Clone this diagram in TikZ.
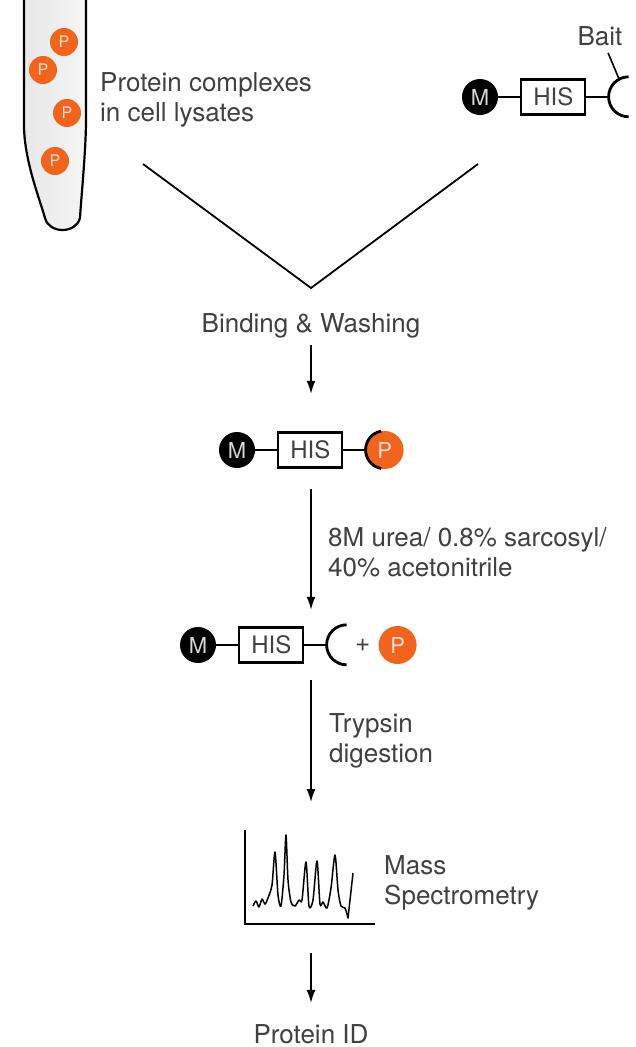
\documentclass[tikz,border=0pt]{standalone}
\usepackage{fontspec}
\setmainfont{TeX Gyre Heros}
\usetikzlibrary{positioning,chains,arrows.meta}

\definecolor{inkgray}{RGB}{64,64,64}
\definecolor{porange}{RGB}{240,100,30}

\begin{document}
\begin{tikzpicture}[
x=1pt, y=-1pt,
label text/.style={
	text=inkgray, inner sep=0pt,
	font=\fontsize{26}{30}\selectfont
},
bead/.style={
	circle, fill=black, text=white!85!black,
	minimum size=36pt, inner sep=0pt,
	font=\fontsize{22}{22}\selectfont
},
histag/.style={
	draw, line width=2.2pt, text=inkgray,
	minimum width=64pt, minimum height=35pt, inner sep=0pt,
	font=\fontsize{24}{24}\selectfont
},
prey/.style={
	circle, fill=porange, text=white!78!porange,
	minimum size=38pt, inner sep=0pt,
	font=\fontsize{22}{22}\selectfont
},
small prey/.style={prey, minimum size=28pt, font=\fontsize{16}{16}\selectfont},
cup/.style={circle, minimum size=40pt, inner sep=0pt},
link/.style={line width=2.2pt},
grip/.style={line width=2.8pt},
flow/.style={-{Latex[length=13pt,width=9pt]}, line width=1.6pt},
node distance=22pt
]
\useasboundingbox (0,0) rectangle (635,1047);

% tube with lysate
\draw[line width=2.2pt, left color=gray!18, middle color=white, right color=gray!8]
	(24,-2) -- (24,125) .. controls (24,160) and (40,200) .. (45,218)
	.. controls (49,234) and (76,234) .. (80,218)
	.. controls (81,200) and (86,150) .. (86,120) -- (86,-2);
\foreach \pos [count=\i] in {(64,42),(43,70),(67,113),(55,161)}
	\node[small prey] (lys\i) at \pos {P};
\node[label text, anchor=north west, align=left] (lysate) at (100,72) {Protein complexes\\in cell lysates};

% bait on the beads
\begin{scope}[start chain=bait going right]
\node[bead, on chain] (m1) at (480,97) {M};
\node[histag, on chain] (his1) {HIS};
\node[cup, on chain] (cup1) {};
\end{scope}
\draw[link] (m1) -- (his1) (his1) -- (cup1.west);
\draw[grip] (cup1.north) arc[start angle=90, end angle=270, radius=20pt];
\node[label text, anchor=base] (bait) at (600,45) {Bait};
\draw[line width=1.6pt, shorten <=8pt] ([xshift=5pt]bait.south) -- (cup1.118);

% mixing
\coordinate (fromlys) at (143,164);
\coordinate (frombait) at (478,164);
\coordinate (join) at (311,288);
\draw[line width=1.8pt] (fromlys) -- (join) -- (frombait);
\node[label text, anchor=base] (bind) at (311,332) {Binding \& Washing};

% bound complex
\begin{scope}[start chain=bound going right]
\node[bead, on chain] (m2) at (237,450) {M};
\node[histag, on chain] (his2) {HIS};
\node[prey, on chain] (p2) {P};
\end{scope}
\draw[link] (m2) -- (his2) (his2) -- (p2);
\draw[grip] (p2.100) arc[start angle=100, end angle=260, radius=19pt];

% elution
\begin{scope}[start chain=eluted going right]
\node[bead, on chain] (m3) at (198,645) {M};
\node[histag, on chain] (his3) {HIS};
\node[cup, on chain] (cup3) {};
\end{scope}
\draw[link] (m3) -- (his3) (his3) -- (cup3.west);
\draw[grip] (cup3.north) arc[start angle=90, end angle=270, radius=20pt];
\node[label text] (plus) at ([xshift=16pt]cup3.center) {+};
\node[prey, right=8pt of plus] (p3) {P};

\node[label text, anchor=north west, align=left] (urea) at (328,527) {8M urea/ 0.8\% sarcosyl/\\40\% acetonitrile};
\node[label text, anchor=north west, align=left] (trypsin) at (329,713) {Trypsin\\digestion};

% spectrum
\coordinate (spec) at (311,830);
\coordinate (origin) at (245,924);
\draw[line width=1.6pt] (origin |- spec) -- (origin) -- ++(130,0);
\draw[line width=1.5pt, line join=round] plot[smooth, tension=.45] coordinates {
	(253,906) (256,901) (259,907) (262,899) (265,904) (268,898) (272,885)
	(275,852) (278,895) (281,906) (284,875) (286,835) (288,880) (291,902)
	(295,906) (299,900) (302,900) (306,862) (309,906) (313,900) (317,861)
	(320,904) (323,902) (327,908) (331,888) (335,855) (338,890) (341,906)
	(345,908) (348,918)} -- (353,873);
\node[label text, anchor=north west, align=left] (mass) at (384,855) {Mass\\Spectrometry};

\node[label text, anchor=base] (pid) at (311,1043) {Protein ID};

% workflow arrows
\draw[flow, shorten <=7pt, shorten >=38pt] (bind.south) -- (bind.south |- m2.north);
\draw[flow, shorten <=20pt, shorten >=15pt] (bind |- his2.south) -- (bind |- cup3.north);
\draw[flow, shorten <=15pt, shorten >=28pt] (bind |- cup3.south) -- (spec);
\draw[flow, shorten <=29pt, shorten >=21pt] (spec |- origin) -- (pid.north);
\end{tikzpicture}
\end{document}
